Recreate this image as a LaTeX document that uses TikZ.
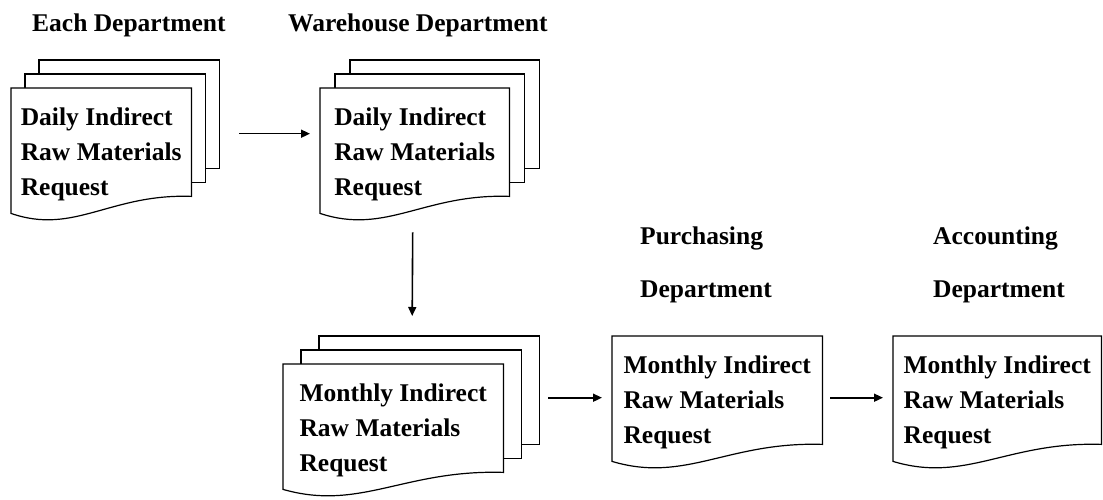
\documentclass[tikz,border=0pt]{standalone}
\usepackage{fontspec}
\setmainfont{Liberation Serif}
\usetikzlibrary{positioning, arrows.meta, backgrounds, calc}

% outline of one request form, wavy lower edge
\newcommand{\formfront}[1]{%
  \draw[sheet] (#1.north west) -- (#1.north east) -- ([yshift=25pt]#1.south east)
    .. controls ($(#1.south east)!0.45!(#1.south west)+(0,-28)$)
    and ($(#1.south west)!0.35!(#1.south east)+(0,14)$) .. ([yshift=8pt]#1.south west) -- cycle;}
% the two copies behind a form
\newcommand{\formcopies}[3]{%
  \draw[sheet] ([shift={(2*#2,-2*#3)}]#1.north west) rectangle ([shift={(2*#2,-25-2*#3)}]#1.south east);
  \draw[sheet] ([shift={(#2,-#3)}]#1.north west) rectangle ([shift={(#2,-25-#3)}]#1.south east);}

\begin{document}
\begin{tikzpicture}[x=1pt, y=-1pt,
    form/.style={rectangle, anchor=north west, inner sep=0pt,
      minimum height=133pt, align=left, font=\fontsize{25.5}{35}\selectfont\bfseries},
    head/.style={anchor=base west, inner sep=0pt, font=\fontsize{25.5}{35}\selectfont\bfseries},
    sheet/.style={draw=black, fill=white, line width=1.2pt},
    flow/.style={line width=1.6pt, -{Triangle[length=9pt, width=8pt]}}
  ]
    \useasboundingbox (0,0) rectangle (1103,500);

    \node[head] (each) at (32,32) {Each Department};
    \node[head] (ware) at (288,32) {Warehouse Department};
    \node[head] (purch) at (640,244) {Purchasing};
    \node[head, below=53pt of purch.base west, anchor=base west] (purchdept) {Department};
    \node[head] (acct) at (933,244) {Accounting};
    \node[head, below=53pt of acct.base west, anchor=base west] (acctdept) {Department};

    \node[form, minimum width=180pt] (daily1) at (11,88) {Daily Indirect\\Raw Materials\\Request};
    \node[form, minimum width=189pt] (daily2) at (320,88) {Daily Indirect\\Raw Materials\\Request};
    \node[form, minimum width=220pt] (monthly1) at (283,364) {Monthly Indirect\\Raw Materials\\Request};
    \node[form, minimum width=210pt] (monthly2) at (612,336) {Monthly Indirect\\Raw Materials\\Request};
    \node[form, minimum width=208pt] (monthly3) at (893,336) {Monthly Indirect\\Raw Materials\\Request};

    \begin{scope}[on background layer]
      \formcopies{daily1}{14}{14}
      \formfront{daily1}
      \formcopies{daily2}{15}{14}
      \formfront{daily2}
      \formcopies{monthly1}{18}{14}
      \formfront{monthly1}
      \formfront{monthly2}
      \formfront{monthly3}
    \end{scope}

    \draw[flow] ([shift={(48,-21)}]daily1.east) -- ([shift={(-10,-21)}]daily2.west);
    \draw[flow] ([shift={(-2,11)}]daily2.south) -- ([shift={(19,-48)}]monthly1.north);
    \draw[flow] ([shift={(45,-33)}]monthly1.east) -- ([shift={(-10,-5)}]monthly2.west);
    \draw[flow] ([shift={(8,-5)}]monthly2.east) -- ([shift={(-10,-5)}]monthly3.west);
  \end{tikzpicture}
\end{document}
